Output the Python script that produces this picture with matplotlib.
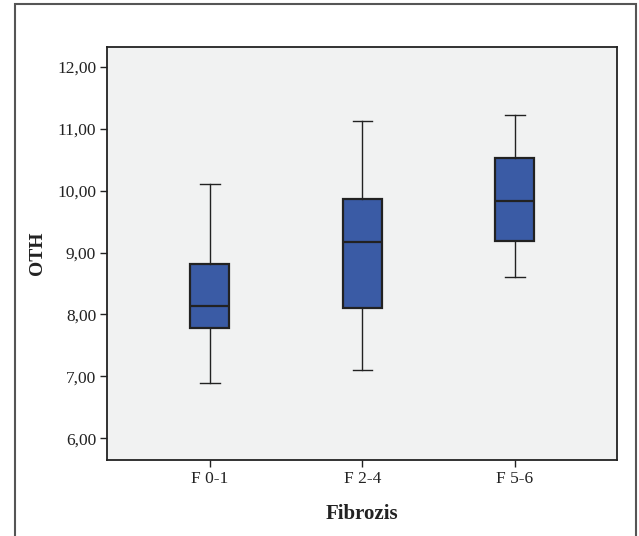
import matplotlib
matplotlib.use("Agg")
import matplotlib.pyplot as plt
from matplotlib.patches import Rectangle

categories = ["F 0-1", "F 2-4", "F 5-6"]
whisker_low = [6.89, 7.10, 8.60]
q1 = [7.78, 8.10, 9.19]
median = [8.13, 9.17, 9.83]
q3 = [8.81, 9.87, 10.52]
whisker_high = [10.11, 11.12, 11.22]
yticks = [6, 7, 8, 9, 10, 11, 12]
ytick_labels = ["6,00", "7,00", "8,00", "9,00", "10,00", "11,00", "12,00"]

plt.rcParams['font.family'] = ['Liberation Serif', 'DejaVu Serif']

fig = plt.figure(figsize=(6.39, 5.36), dpi=100)
W, H = 639, 536
ax = fig.add_axes([107.3 / W, 1 - 460 / H, (616.7 - 107.3) / W, (460 - 47.3) / H])
ax.set_facecolor("#f1f2f2")

stats = []
for i, c in enumerate(categories):
    stats.append(dict(label=c, whislo=whisker_low[i], q1=q1[i], med=median[i],
                      q3=q3[i], whishi=whisker_high[i], fliers=[]))

ax.bxp(stats, positions=[1, 2, 3], widths=0.256, patch_artist=True, showfliers=False,
       boxprops=dict(facecolor="#3a5ba5", edgecolor="#222222", linewidth=1.6),
       medianprops=dict(color="#222222", linewidth=1.6),
       whiskerprops=dict(color="#222222", linewidth=1.0),
       capprops=dict(color="#222222", linewidth=1.0))

ax.set_xlim(0.327, 3.667)
ax.set_ylim(5.65, 12.313)
ax.set_yticks(yticks)
ax.set_yticklabels(ytick_labels)
ax.tick_params(axis='both', direction='out', length=5, width=1.0, color="#222222",
               labelsize=12.5, labelcolor="#222222", pad=3)
for s in ax.spines.values():
    s.set_color("#222222")
    s.set_linewidth(1.3)

ax.set_ylabel("OTH", fontsize=14, fontweight='bold', color="#222222", labelpad=8)
ax.set_xlabel("Fibrozis", fontsize=15, fontweight='bold', color="#222222", labelpad=12)

fig.add_artist(Rectangle((14.7 / W, -0.05), (635.7 - 14.7) / W, 1.05 - 4 / H,
                         transform=fig.transFigure, fill=False, edgecolor="#555555",
                         linewidth=1.5, clip_on=False))

fig.savefig("out.png", dpi=100)
